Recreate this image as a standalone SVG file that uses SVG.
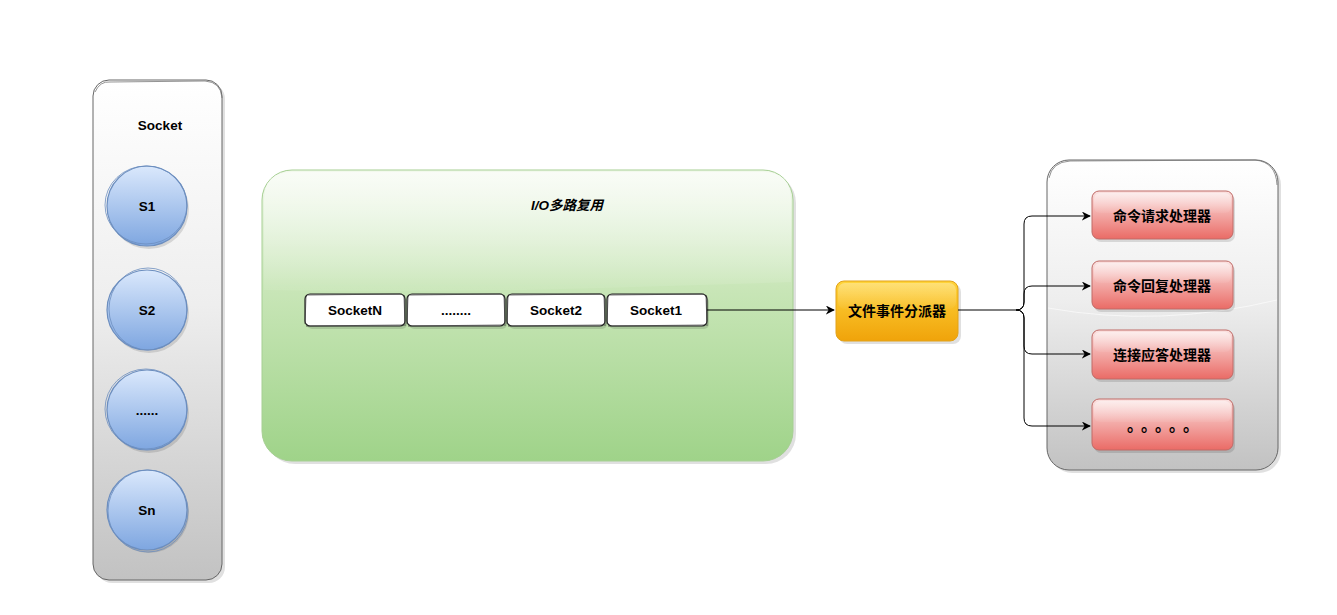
<svg xmlns="http://www.w3.org/2000/svg" width="1337" height="615" viewBox="0 0 1337 615">
<defs>
<linearGradient id="gGray" x1="0" y1="0" x2="0" y2="1">
<stop offset="0" stop-color="#ffffff"/><stop offset="0.45" stop-color="#eeeeee"/><stop offset="1" stop-color="#c2c2c2"/>
</linearGradient>
<linearGradient id="gGreen" x1="0" y1="0" x2="0" y2="1">
<stop offset="0" stop-color="#f3f9ee"/><stop offset="0.4" stop-color="#c9e6b8"/><stop offset="1" stop-color="#9fd389"/>
</linearGradient>
<linearGradient id="gBlue" x1="0" y1="0" x2="0" y2="1">
<stop offset="0" stop-color="#dae8fc"/><stop offset="1" stop-color="#7ea6e0"/>
</linearGradient>
<linearGradient id="gRed" x1="0" y1="0" x2="0" y2="1">
<stop offset="0" stop-color="#fbe3e2"/><stop offset="1" stop-color="#ea6b66"/>
</linearGradient>
<linearGradient id="gOrange" x1="0" y1="0" x2="0" y2="1">
<stop offset="0" stop-color="#ffd43a"/><stop offset="1" stop-color="#f0a30a"/>
</linearGradient>
<linearGradient id="gGlass" x1="0" y1="0" x2="0" y2="1">
<stop offset="0" stop-color="#ffffff" stop-opacity="0.9"/><stop offset="1" stop-color="#ffffff" stop-opacity="0.1"/>
</linearGradient>
<marker id="arr" viewBox="0 0 10 10" refX="9" refY="5" markerWidth="9" markerHeight="9" orient="auto" markerUnits="userSpaceOnUse">
<path d="M0,0 L10,5 L0,10 L3,5 Z" fill="#000"/>
</marker>
<style>
.lbl{font-family:"Liberation Sans","Noto Sans CJK SC",sans-serif;font-weight:bold;font-size:13.5px;fill:#000;text-anchor:middle;dominant-baseline:central}
.cjk{font-family:"Noto Sans CJK SC","Liberation Sans",sans-serif;font-weight:bold;font-size:14px;fill:#000;text-anchor:middle;dominant-baseline:central}
.shadow{fill:#000;opacity:0.12}
.cont{stroke:#666;stroke-width:1}
.circ{fill:url(#gBlue);stroke:#6c8ebf;stroke-width:1.2}
.sk{fill:none;stroke:#6c8ebf;stroke-width:0.8}
.sock{fill:#fff;stroke:#222;stroke-width:1.2}
.red{fill:url(#gRed);stroke:#c06a66;stroke-width:1}
.conn{fill:none;stroke:#000;stroke-width:1}
</style>
</defs>

<g id="socket-container">
<rect class="shadow" x="96" y="83" width="129" height="500" rx="16"/>
<rect class="cont" x="93" y="80" width="129" height="500" rx="16" fill="url(#gGray)"/>
<path d="M95,92 Q100,81 110,82 L205,81 Q221,82 222,98" fill="none" stroke="#777" stroke-width="0.8"/>
<text class="lbl" x="160" y="125">Socket</text>
</g>

<g id="s1">
<circle class="shadow" cx="149" cy="209" r="40"/>
<circle class="circ" cx="147" cy="206" r="40"/>
<ellipse class="sk" cx="146" cy="205" rx="41" ry="39"/>
<text class="lbl" x="147" y="206">S1</text>
</g>
<g id="s2">
<circle class="shadow" cx="149" cy="313" r="40"/>
<circle class="circ" cx="147" cy="310" r="40"/>
<ellipse class="sk" cx="148" cy="309" rx="39" ry="41"/>
<text class="lbl" x="147" y="310">S2</text>
</g>
<g id="s-dots">
<circle class="shadow" cx="149" cy="413" r="40"/>
<circle class="circ" cx="147" cy="410" r="40"/>
<ellipse class="sk" cx="146" cy="409" rx="41" ry="40"/>
<text class="lbl" x="147" y="410">......</text>
</g>
<g id="sn">
<circle class="shadow" cx="149" cy="513" r="40"/>
<circle class="circ" cx="147" cy="510" r="40"/>
<ellipse class="sk" cx="148" cy="511" rx="40" ry="41"/>
<text class="lbl" x="147" y="510">Sn</text>
</g>

<g id="io-multiplexing">
<rect class="shadow" x="265" y="173" width="531" height="291" rx="30"/>
<rect x="262" y="170" width="531" height="291" rx="30" fill="url(#gGreen)" stroke="#a6cf93" stroke-width="1"/>
<path d="M264,290 L264,200 Q264,172 292,172 L763,172 Q791,172 791,200 L791,282 Q700,285 600,288 Q420,293 264,290 Z" fill="url(#gGlass)" opacity="0.6"/>
<text x="567" y="205" style="font-family:'Liberation Sans','Noto Sans CJK SC',sans-serif;font-weight:bold;font-style:italic;font-size:13.5px;text-anchor:middle;dominant-baseline:central">I/O多路复用</text>
</g>

<g id="socketN">
<rect class="shadow" x="307" y="297" width="100" height="32" rx="5"/>
<rect class="sock" x="305" y="294" width="100" height="32" rx="5"/>
<path d="M308,295 L402,294 M306,296 L305,324 M404,295 L405,326 M306,326 L404,325" fill="none" stroke="#333" stroke-width="0.7"/>
<text class="lbl" x="355" y="310">SocketN</text>
</g>
<g id="socket-dots">
<rect class="shadow" x="409" y="297" width="98" height="32" rx="5"/>
<rect class="sock" x="407" y="294" width="98" height="32" rx="5"/>
<path d="M410,295 L502,294 M408,296 L407,324 M504,295 L505,326 M408,326 L503,325" fill="none" stroke="#333" stroke-width="0.7"/>
<text class="lbl" x="456" y="310">........</text>
</g>
<g id="socket2">
<rect class="shadow" x="509" y="297" width="98" height="32" rx="5"/>
<rect class="sock" x="507" y="294" width="98" height="32" rx="5"/>
<path d="M510,295 L602,294 M508,296 L507,324 M604,295 L605,326 M508,326 L603,325" fill="none" stroke="#333" stroke-width="0.7"/>
<text class="lbl" x="556" y="310">Socket2</text>
</g>
<g id="socket1">
<rect class="shadow" x="609" y="297" width="100" height="32" rx="5"/>
<rect class="sock" x="607" y="294" width="100" height="32" rx="5"/>
<path d="M610,295 L704,294 M608,296 L607,324 M706,295 L707,326 M608,326 L705,325" fill="none" stroke="#333" stroke-width="0.7"/>
<text class="lbl" x="656" y="310">Socket1</text>
</g>

<g id="dispatcher">
<rect class="shadow" x="839" y="284" width="122" height="60" rx="8"/>
<rect x="836" y="281" width="122" height="60" rx="8" fill="url(#gOrange)" stroke="#e2a21a" stroke-width="1"/>
<rect x="838" y="283" width="118" height="26" rx="7" fill="url(#gGlass)" opacity="0.35"/>
<text class="cjk" x="897" y="310">文件事件分派器</text>
</g>

<g id="handler-container">
<rect class="shadow" x="1050" y="163" width="231" height="310" rx="22"/>
<rect class="cont" x="1047" y="160" width="231" height="310" rx="22" fill="url(#gGray)"/>
<path d="M1049,178 Q1052,162 1070,161 L1255,160 Q1276,162 1277,185" fill="none" stroke="#777" stroke-width="0.8"/>
<path d="M1048,308 Q1160,328 1277,300" fill="none" stroke="#ffffff" stroke-opacity="0.6" stroke-width="1"/>
</g>

<g id="h1">
<rect class="shadow" x="1094" y="194" width="141" height="48" rx="7"/>
<rect class="red" x="1092" y="191" width="141" height="48" rx="7"/>
<rect x="1094" y="193" width="137" height="20" rx="6" fill="url(#gGlass)" opacity="0.5"/>
<text class="cjk" x="1162" y="215">命令请求处理器</text>
</g>
<g id="h2">
<rect class="shadow" x="1094" y="264" width="141" height="48" rx="7"/>
<rect class="red" x="1092" y="261" width="141" height="48" rx="7"/>
<rect x="1094" y="263" width="137" height="20" rx="6" fill="url(#gGlass)" opacity="0.5"/>
<text class="cjk" x="1162" y="285">命令回复处理器</text>
</g>
<g id="h3">
<rect class="shadow" x="1094" y="333" width="141" height="49" rx="7"/>
<rect class="red" x="1092" y="330" width="141" height="49" rx="7"/>
<rect x="1094" y="332" width="137" height="20" rx="6" fill="url(#gGlass)" opacity="0.5"/>
<text class="cjk" x="1162" y="354">连接应答处理器</text>
</g>
<g id="h4">
<rect class="shadow" x="1094" y="402" width="141" height="51" rx="7"/>
<rect class="red" x="1092" y="399" width="141" height="51" rx="7"/>
<rect x="1094" y="401" width="137" height="21" rx="6" fill="url(#gGlass)" opacity="0.5"/>
<text x="1127 1141 1155 1169 1183" y="431" style="font-family:'Noto Sans CJK SC',sans-serif;font-weight:bold;font-size:16px">。。。。。</text>
</g>

<g id="connectors">
<path class="conn" d="M707,310 L834,310" marker-end="url(#arr)"/>
<path class="conn" d="M958,310 L1016,310 Q1024,310 1024,302 L1024,224 Q1024,216 1032,216 L1090,216" marker-end="url(#arr)"/>
<path class="conn" d="M1016,310 Q1024,310 1024,302 L1024,294 Q1024,286 1032,286 L1090,286" marker-end="url(#arr)"/>
<path class="conn" d="M1016,310 Q1024,310 1024,318 L1024,346 Q1024,354 1032,354 L1090,354" marker-end="url(#arr)"/>
<path class="conn" d="M1016,310 Q1024,310 1024,318 L1024,418 Q1024,426 1032,426 L1090,426" marker-end="url(#arr)"/>
</g>
</svg>
